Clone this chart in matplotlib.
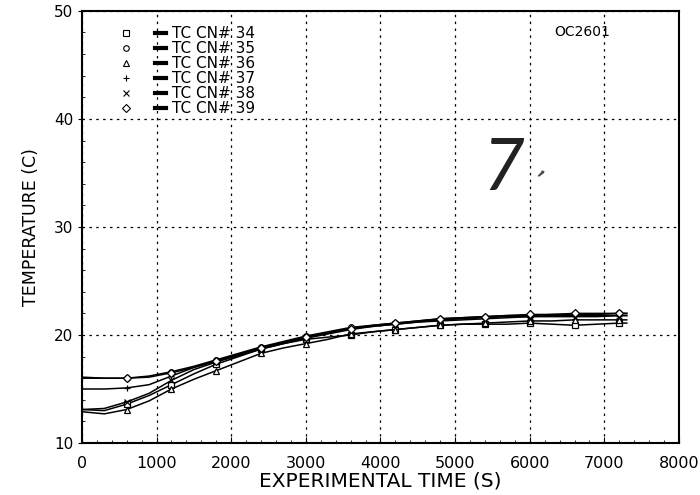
import numpy as np
import matplotlib
matplotlib.use('Agg')
import matplotlib.pyplot as plt
from matplotlib.lines import Line2D
from matplotlib.legend_handler import HandlerTuple

# time (s) and thermocouple readings (C)
time = [0, 300, 600, 900, 1200, 1500, 1800, 2100, 2400, 2700, 3000, 3300,
        3600, 3900, 4200, 4500, 4800, 5100, 5400, 5700, 6000, 6300, 6600,
        6900, 7200, 7300]

tc34 = [13.1, 13.0, 13.6, 14.4, 15.4, 16.4, 17.3, 18.0, 18.7, 19.2, 19.6, 19.8,
        20.0, 20.3, 20.5, 20.7, 20.9, 21.0, 21.0, 21.0, 21.1, 21.0, 20.9,
        21.0, 21.1, 21.1]
tc35 = [16.1, 16.0, 16.0, 16.2, 16.6, 17.1, 17.7, 18.3, 18.9, 19.4, 19.9, 20.3,
        20.7, 20.9, 21.1, 21.3, 21.5, 21.6, 21.7, 21.8, 21.8, 21.9, 21.9,
        21.9, 22.0, 22.0]
tc36 = [12.9, 12.7, 13.1, 13.9, 15.0, 15.9, 16.7, 17.5, 18.3, 18.8, 19.2, 19.6,
        20.1, 20.3, 20.5, 20.7, 20.9, 21.0, 21.1, 21.2, 21.3, 21.3, 21.4,
        21.4, 21.4, 21.4]
tc37 = [15.0, 15.0, 15.1, 15.4, 16.2, 17.0, 17.6, 18.2, 18.8, 19.3, 19.8, 20.2,
        20.6, 20.8, 21.0, 21.2, 21.4, 21.5, 21.6, 21.7, 21.7, 21.8, 21.8,
        21.8, 21.8, 21.8]
tc38 = [13.1, 13.2, 13.8, 14.6, 15.8, 16.8, 17.5, 18.1, 18.7, 19.2, 19.7, 20.1,
        20.5, 20.8, 21.0, 21.2, 21.3, 21.4, 21.5, 21.6, 21.7, 21.7, 21.7,
        21.7, 21.8, 21.8]
tc39 = [16.0, 16.0, 16.0, 16.1, 16.5, 17.0, 17.6, 18.2, 18.8, 19.3, 19.8, 20.2,
        20.6, 20.9, 21.1, 21.3, 21.5, 21.6, 21.7, 21.8, 21.9, 21.9, 22.0,
        22.0, 22.0, 22.0]

series = [tc34, tc35, tc36, tc37, tc38, tc39]
labels = ['TC CN# 34', 'TC CN# 35', 'TC CN# 36', 'TC CN# 37', 'TC CN# 38', 'TC CN# 39']
markers = ['s', 'o', '^', '+', 'x', 'D']

fig = plt.figure(figsize=(7, 4.95), dpi=100)
ax = fig.add_axes([0.117, 0.105, 0.853, 0.873])

for vals, m in zip(series, markers):
    ax.plot(time, vals, color='black', lw=1.1, marker=m, ms=4,
            mfc='white', mec='black', mew=0.9, markevery=list(range(2, 25, 2)))

ax.set_xlim(0, 8000)
ax.set_ylim(10, 50)
ax.set_xticks(range(0, 8001, 1000))
ax.set_yticks([10, 20, 30, 40, 50])
ax.set_xticks(np.arange(0, 8001, 200), minor=True)
ax.set_yticks(np.arange(10, 51, 2), minor=True)
ax.tick_params(axis='x', which='major', direction='in', length=4, pad=9, labelsize=11.5)
ax.tick_params(axis='y', which='major', direction='out', length=3, pad=3, labelsize=11)
ax.tick_params(which='minor', direction='in', length=2)

ax.grid(True, which='major', color='black', linestyle=(0, (2, 3.5)), lw=0.9)
for s in ax.spines.values():
    s.set_linewidth(1.5)

ax.set_xlabel('EXPERIMENTAL TIME (S)', fontsize=14.5, labelpad=1)
ax.set_ylabel('TEMPERATURE (C)', fontsize=12.5, labelpad=10)

ax.text(6700, 48.0, 'OC2601', fontsize=10, ha='center', va='center')
ax.text(5640, 35.3, '7', fontsize=52, style='italic', fontfamily='Lato',
        ha='center', va='center', color='#222222')
ax.text(6200, 35.5, ',', fontsize=20, style='italic', ha='center', va='center',
        color='#444444', rotation=-20)

handles = []
for m in markers:
    mk = Line2D([], [], ls='none', marker=m, ms=4, mfc='white', mec='black', mew=0.8)
    ln = Line2D([], [], color='black', lw=3)
    handles.append((mk, ln))
leg = ax.legend(handles, labels, handler_map={tuple: HandlerTuple(ndivide=None, pad=1.6)},
                loc='upper left', bbox_to_anchor=(0.054, 0.979), frameon=False,
                fontsize=11, handlelength=3.0, handletextpad=0.4, labelspacing=0.0,
                borderaxespad=0)
leg.set_zorder(5)

plt.savefig('out.png', dpi=100)
